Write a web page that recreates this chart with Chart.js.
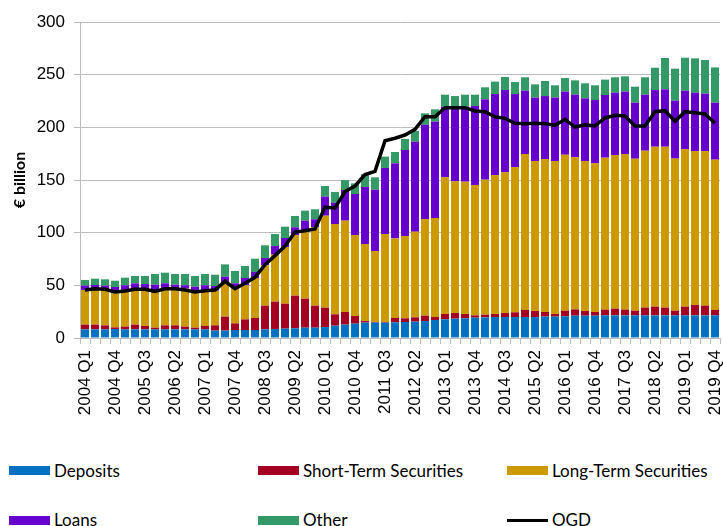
<!DOCTYPE html>
<html>
<head>
<meta charset="utf-8">
<script src="https://cdn.jsdelivr.net/npm/chart.js@4/dist/chart.umd.min.js"></script>
<style>
  body { margin: 0; background: #fff; }
  #wrap { position: relative; width: 723px; height: 526px; overflow: hidden; }
  .item { position: absolute; font-family: Lato, sans-serif; font-size: 17px; color: #000; white-space: nowrap; line-height: 20px; }
  .sw { position: absolute; width: 41px; height: 9px; }
  .ln { position: absolute; width: 41px; height: 3px; background: #000; }
</style>
</head>
<body>
<div id="wrap">
  <canvas id="grafico" width="723" height="440"></canvas>
  <div id="legenda"></div>
</div>
<script>
/* ====== dados (€ bilhões), 2004 Q1 - 2019 Q4 ====== */
const quarters = [
  '2004 Q1','2004 Q2','2004 Q3','2004 Q4','2005 Q1','2005 Q2','2005 Q3','2005 Q4',
  '2006 Q1','2006 Q2','2006 Q3','2006 Q4','2007 Q1','2007 Q2','2007 Q3','2007 Q4',
  '2008 Q1','2008 Q2','2008 Q3','2008 Q4','2009 Q1','2009 Q2','2009 Q3','2009 Q4',
  '2010 Q1','2010 Q2','2010 Q3','2010 Q4','2011 Q1','2011 Q2','2011 Q3','2011 Q4',
  '2012 Q1','2012 Q2','2012 Q3','2012 Q4','2013 Q1','2013 Q2','2013 Q3','2013 Q4',
  '2014 Q1','2014 Q2','2014 Q3','2014 Q4','2015 Q1','2015 Q2','2015 Q3','2015 Q4',
  '2016 Q1','2016 Q2','2016 Q3','2016 Q4','2017 Q1','2017 Q2','2017 Q3','2017 Q4',
  '2018 Q1','2018 Q2','2018 Q3','2018 Q4','2019 Q1','2019 Q2','2019 Q3','2019 Q4'
];

const deposits = [
  8.2, 8.2, 8.2, 8.5, 8.2, 8.2, 8.2, 8.2, 8.2, 8.2, 8.2, 8.2, 8.2, 7.0, 7.0, 7.6,
  7.6, 7.6, 8.2, 8.5, 8.9, 9.2, 9.8, 9.8, 10.4, 11.7, 12.7, 13.6, 14.6, 14.6, 14.6, 14.9,
  15.2, 15.5, 16.1, 17.1, 17.7, 18.4, 18.7, 19.3, 19.6, 19.9, 19.9, 19.9, 19.9, 19.9, 20.3, 20.3,
  20.6, 21.2, 21.2, 21.2, 21.5, 21.5, 21.5, 21.5, 21.5, 21.5, 21.5, 21.5, 21.5, 21.5, 21.5, 21.5
];
const shortTerm = [
  4.5, 4.5, 3.8, 1.6, 2.6, 4.5, 3.2, 1.6, 3.8, 3.8, 2.6, 1.6, 3.2, 5.0, 13.3, 6.3,
  10.1, 11.4, 22.5, 26.0, 23.7, 31.0, 27.5, 20.9, 18.4, 10.8, 12.0, 7.3, 1.5, 0.6, 0.6, 4.1,
  3.5, 4.1, 5.1, 2.8, 5.1, 5.3, 4.1, 2.2, 2.6, 2.9, 3.8, 4.5, 6.7, 5.7, 4.4, 2.5,
  5.3, 6.0, 4.4, 3.5, 5.4, 6.3, 5.4, 4.4, 7.3, 8.2, 7.3, 4.4, 8.2, 9.8, 9.2, 5.1
];
const longTerm = [
  32.9, 33.5, 34.2, 32.3, 34.8, 34.1, 35.4, 33.9, 34.8, 34.8, 36.0, 33.2, 34.2, 32.9, 31.6, 32.9,
  32.3, 38.0, 38.3, 44.6, 53.8, 57.6, 64.3, 74.4, 87.3, 85.7, 86.7, 76.9, 73.1, 67.4, 83.5, 75.6,
  78.1, 81.3, 91.7, 94.0, 129.7, 125.0, 125.6, 123.8, 128.1, 131.9, 133.6, 137.9, 148.1, 142.4, 145.2, 145.2,
  148.1, 144.3, 142.4, 141.1, 144.3, 145.9, 147.8, 144.3, 149.0, 151.9, 152.8, 144.4, 149.4, 146.2, 146.8, 142.7
];
const loans = [
  4.1, 4.1, 3.5, 6.0, 4.4, 5.1, 4.5, 6.9, 5.1, 3.8, 3.2, 5.7, 4.4, 4.5, 6.3, 5.1,
  7.0, 5.7, 6.9, 8.2, 8.5, 7.3, 9.8, 7.6, 18.1, 20.3, 29.1, 38.9, 54.2, 58.2, 62.7, 71.2,
  81.7, 85.5, 89.6, 91.5, 67.1, 69.7, 71.2, 75.0, 76.3, 76.9, 78.1, 69.3, 60.1, 60.2, 59.8, 60.2,
  59.9, 59.5, 59.5, 60.1, 59.5, 59.2, 59.2, 53.2, 53.2, 53.8, 54.5, 55.0, 55.7, 55.4, 54.5, 54.1
];
const other = [
  5.4, 6.0, 6.0, 6.0, 7.3, 7.0, 7.6, 10.2, 10.1, 10.2, 10.8, 10.2, 10.8, 10.7, 11.7, 11.7,
  11.4, 12.6, 12.1, 11.4, 10.8, 10.7, 9.5, 9.5, 10.1, 10.1, 9.4, 10.1, 12.3, 11.7, 10.8, 10.8,
  10.5, 10.1, 10.8, 11.7, 11.4, 11.3, 11.4, 10.7, 11.4, 11.8, 12.4, 11.4, 12.7, 12.6, 14.3, 11.7,
  12.9, 13.6, 14.3, 14.0, 14.6, 14.6, 14.5, 15.2, 16.5, 21.2, 29.7, 30.4, 31.3, 32.6, 31.9, 33.5
];
const ogd = [
  45.6, 46.8, 46.2, 43.7, 44.6, 46.2, 46.2, 44.3, 46.8, 46.8, 45.6, 43.7, 44.9, 45.6, 53.8, 46.8,
  51.9, 57.6, 69.6, 78.2, 87.3, 100.6, 101.9, 103.5, 124.1, 123.4, 139.1, 144.3, 155.1, 158.2, 187.3, 189.6,
  192.7, 198.1, 210.1, 210.1, 218.7, 218.7, 218.7, 215.5, 214.9, 210.1, 208.5, 203.8, 203.5, 203.8, 203.5, 201.9,
  207.6, 200.3, 202.5, 201.3, 208.9, 211.4, 210.8, 201.3, 201.3, 214.9, 215.8, 205.7, 214.9, 213.9, 212.7, 203.8
];
const yTicks = [0, 50, 100, 150, 200, 250, 300];

const series = [
  { label: 'Deposits', data: deposits, cor: '#0070C0' },
  { label: 'Short-Term Securities', data: shortTerm, cor: '#A50021' },
  { label: 'Long-Term Securities', data: longTerm, cor: '#CC9900' },
  { label: 'Loans', data: loans, cor: '#6600CC' },
  { label: 'Other', data: other, cor: '#339966' }
];

/* ====== gráfico ====== */
const ctx = document.getElementById('grafico');
const grid = '#BCBCBC';

const datasets = series.map(s => ({
  type: 'bar',
  label: s.label,
  data: s.data,
  backgroundColor: s.cor,
  borderWidth: 0,
  barPercentage: 0.8,
  categoryPercentage: 1,
  order: 2
}));
datasets.push({
  type: 'line',
  label: 'OGD',
  data: ogd,
  borderColor: '#000',
  borderWidth: 3.5,
  pointRadius: 0,
  tension: 0,
  stack: 'ogd',
  order: 0
});

new Chart(ctx, {
  data: { labels: quarters, datasets: datasets },
  options: {
    responsive: false,
    animation: false,
    layout: { padding: { left: 0, right: 3, top: 22, bottom: 0 } },
    plugins: { legend: { display: false }, tooltip: { enabled: false } },
    scales: {
      x: {
        stacked: true,
        grid: { drawOnChartArea: false, drawTicks: true, tickLength: 6, color: grid },
        border: { color: grid },
        ticks: {
          autoSkip: false,
          minRotation: 90,
          maxRotation: 90,
          padding: 6,
          color: '#000',
          font: { family: 'Liberation Sans', size: 17 },
          callback: (v, i) => (i % 3 === 0 ? quarters[i] : '')
        },
        afterFit: s => { s.height = 102; s.paddingLeft = 0; s.paddingRight = 0; }
      },
      y: {
        stacked: true,
        min: 0,
        max: 300,
        afterBuildTicks: s => { s.ticks = yTicks.map(v => ({ value: v })); },
        grid: { color: grid, tickLength: 6 },
        border: { color: grid },
        ticks: {
          padding: 9,
          color: '#000',
          font: { family: 'Liberation Sans', size: 17 }
        },
        title: {
          display: true,
          text: '€ billion',
          color: '#000',
          padding: { top: 10, bottom: 0 },
          font: { family: 'Lato', size: 16, weight: 'bold' }
        },
        afterFit: s => { s.width = 80; }
      }
    }
  }
});

/* ====== legenda em 3 colunas ====== */
const legenda = document.getElementById('legenda');
const colX = [9, 258, 507];
const rowY = [470.5, 520];
const itens = series.map(s => ({ label: s.label, cor: s.cor, linha: false }));
itens.push({ label: 'OGD', cor: '#000', linha: true });
itens.forEach((it, i) => {
  const x = colX[i % 3], y = rowY[Math.floor(i / 3)];
  const mark = document.createElement('div');
  if (it.linha) {
    mark.className = 'ln';
    mark.style.left = x + 'px';
    mark.style.top = (y - 1.5) + 'px';
  } else {
    mark.className = 'sw';
    mark.style.background = it.cor;
    mark.style.left = x + 'px';
    mark.style.top = (y - 4.5) + 'px';
  }
  legenda.appendChild(mark);
  const txt = document.createElement('div');
  txt.className = 'item';
  txt.textContent = it.label;
  txt.style.left = (x + 45) + 'px';
  txt.style.top = (y - 10) + 'px';
  legenda.appendChild(txt);
});
</script>
</body>
</html>
